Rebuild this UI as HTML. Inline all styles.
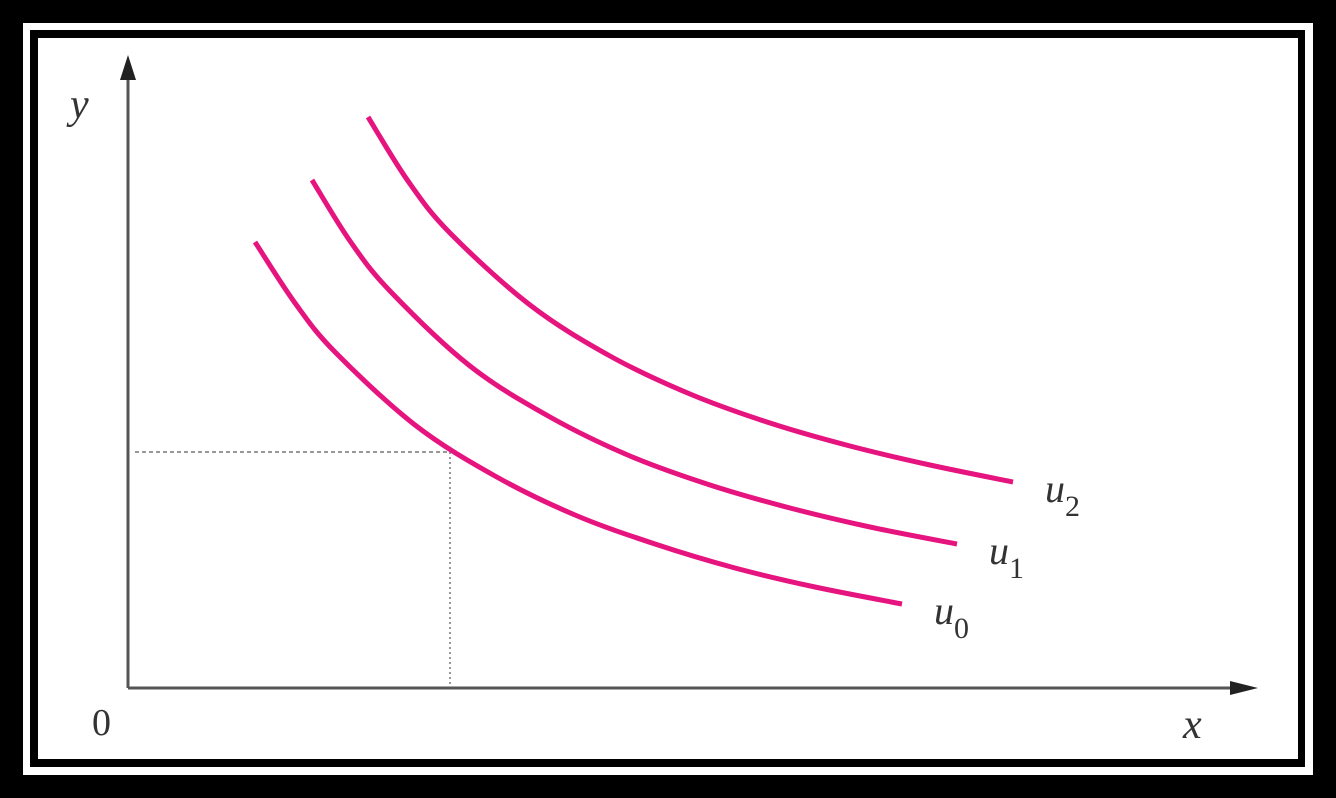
<!DOCTYPE html>
<html><head><meta charset="utf-8"><style>
html,body{margin:0;padding:0;background:#000;}
svg{display:block;}
text{font-family:"Liberation Serif",serif;fill:#333;}
</style></head><body>
<svg width="1336" height="798" viewBox="0 0 1336 798">
<rect x="0" y="0" width="1336" height="798" fill="#000"/>
<rect x="23" y="23" width="1290" height="752" fill="#fff"/>
<rect x="30" y="30" width="1275" height="737" fill="#000"/>
<rect x="38" y="38" width="1260" height="721" fill="#fff"/>
<g id="chart"></g>
</svg>
<script>
const curveNames=["u0","u1","u2"];
const u0x=[1.27,1.67,2.07,2.87,3.67,4.47,5.27,6.07,6.87,7.74];
const u0y=[4.46,3.85,3.36,2.63,2.12,1.73,1.44,1.20,1.01,0.84];
const u1x=[1.84,2.22,2.62,3.42,4.22,5.02,5.82,6.62,7.42,8.29];
const u1y=[5.08,4.47,3.97,3.22,2.71,2.32,2.03,1.80,1.61,1.44];
const u2x=[2.40,2.80,3.22,4.02,4.82,5.62,6.42,7.22,8.02,8.85];
const u2y=[5.71,5.07,4.55,3.83,3.32,2.94,2.65,2.42,2.23,2.06];
const refX=[3.22];
const refY=[2.36];
const NS="http://www.w3.org/2000/svg";
const g=document.getElementById("chart");
function xs(v){return 128+v*100;}
function ys(v){return 688-v*100;}
function mk(t,a){const e=document.createElementNS(NS,t);for(const k in a)e.setAttribute(k,a[k]);g.appendChild(e);return e;}
let e=mk("line",{x1:128,y1:688,x2:128,y2:75,stroke:"#555","stroke-width":3});


e=mk("polygon",{points:"128,55 120,80 136,80",fill:"#222"});


e=mk("line",{x1:128,y1:688,x2:1235,y2:688,stroke:"#555","stroke-width":3});


e=mk("polygon",{points:"1258,688 1230,681 1230,695",fill:"#222"});


e=mk("line",{x1:135,y1:ys(refY[0]),x2:xs(refX[0]),y2:ys(refY[0]),stroke:"#777","stroke-width":1.5,"stroke-dasharray":"4,3"});


e=mk("line",{x1:xs(refX[0]),y1:ys(refY[0]),x2:xs(refX[0]),y2:686,stroke:"#777","stroke-width":1.5,"stroke-dasharray":"2,3"});


function path(xa,ya){
 const p=xa.map((x,i)=>[xs(x),ys(ya[i])]);
 let d="M"+p[0][0]+","+p[0][1];
 for(let i=0;i<p.length-1;i++){
  const p0=p[i-1]||p[i],p1=p[i],p2=p[i+1],p3=p[i+2]||p2;
  const c1=[p1[0]+(p2[0]-p0[0])/6,p1[1]+(p2[1]-p0[1])/6];
  const c2=[p2[0]-(p3[0]-p1[0])/6,p2[1]-(p3[1]-p1[1])/6];
  d+=` C${c1[0]},${c1[1]} ${c2[0]},${c2[1]} ${p2[0]},${p2[1]}`;
 }
 return d;
}
const data=[[u0x,u0y],[u1x,u1y],[u2x,u2y]];
data.forEach((s,i)=>{
 const c=mk("path",{d:path(s[0],s[1]),fill:"none",stroke:"#e6147e","stroke-width":5,"stroke-linecap":"butt"});
 
 
 const lx=xs(s[0][s[0].length-1])+32, ly=ys(s[1][s[1].length-1])+20;
 const t=mk("text",{x:lx,y:ly,"font-size":40,"font-style":"italic"});
 t.textContent="u";
 const sub=document.createElementNS(NS,"tspan");
 sub.setAttribute("dy","14");sub.setAttribute("font-size","30");sub.setAttribute("font-style","normal");
 sub.textContent=curveNames[i].slice(1);
 t.appendChild(sub);
 
 
});
e=mk("text",{x:70,y:118,"font-size":42,"font-style":"italic"});e.textContent="y";


e=mk("text",{x:92,y:735,"font-size":38});e.textContent="0";


e=mk("text",{x:1183,y:738,"font-size":42,"font-style":"italic"});e.textContent="x";


</script>
</body></html>
